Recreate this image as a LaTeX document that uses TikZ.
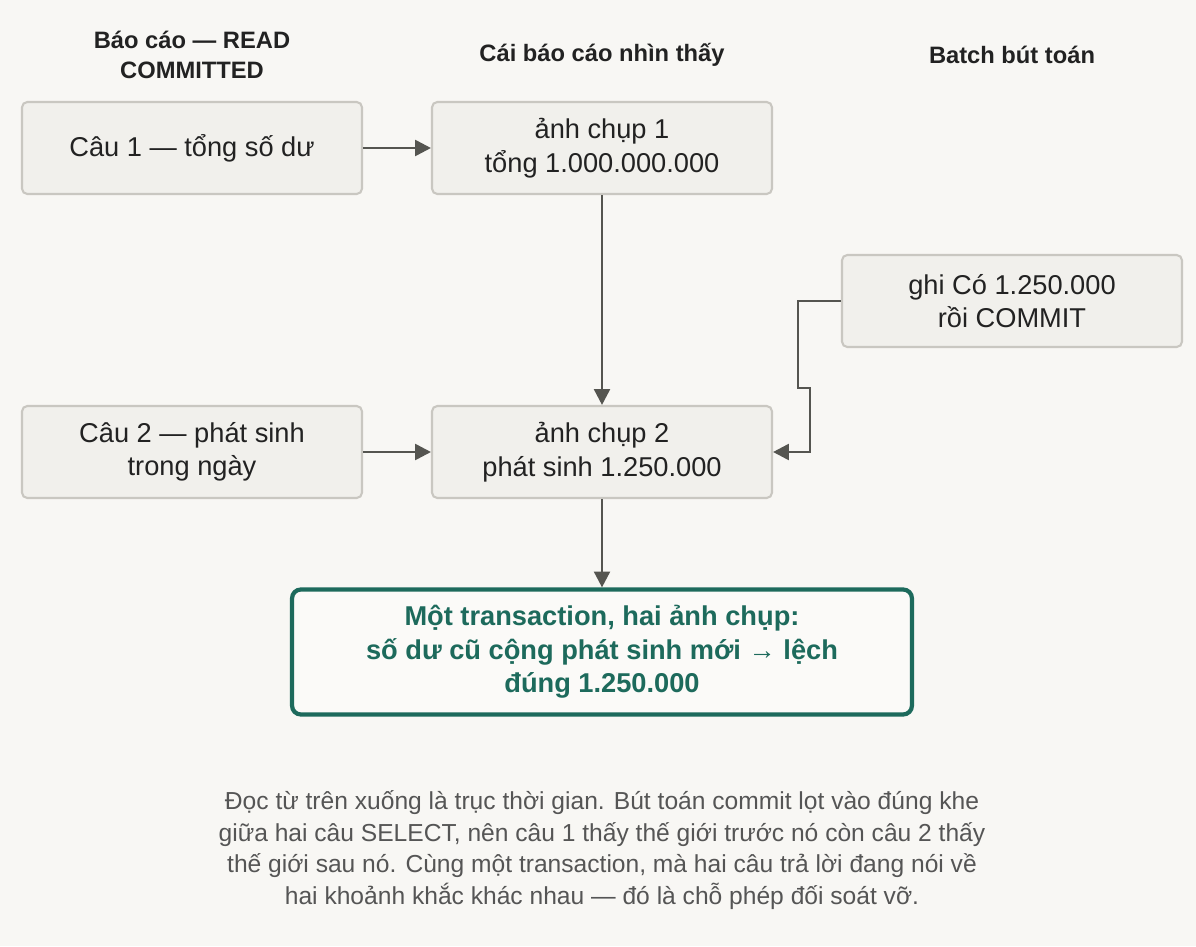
\documentclass[tikz,border=0pt]{standalone}
\usepackage{fontspec}
\setmainfont{Liberation Sans}
\usepackage{xcolor}
\definecolor{paper}{HTML}{F8F7F4}
\definecolor{boxfill}{HTML}{F1F0EC}
\definecolor{boxline}{HTML}{C9C7C1}
\definecolor{ink}{HTML}{222222}
\definecolor{wire}{HTML}{555550}
\definecolor{teal}{HTML}{1D6A5C}
\definecolor{note}{HTML}{555555}
\usetikzlibrary{arrows.meta,positioning}

\tikzset{
  stage/.style={draw=boxline, line width=1.2pt, fill=boxfill, rounded corners=3pt,
    minimum width=6.8cm, minimum height=1.84cm, align=center, text=ink,
    font=\fontsize{15.5}{19}\selectfont},
  head/.style={font=\bfseries\fontsize{13.5}{17}\selectfont, align=center, text=ink},
  flow/.style={draw=wire, line width=1.5pt, -{Triangle[length=9pt,width=9pt]}},
}

\begin{document}
\begin{tikzpicture}[x=0.02cm, y=-0.02cm]
  \useasboundingbox[fill=paper] (0,0) rectangle (1196,946);

  % Headers
  \node[head] (h1) at (192,55) {Báo cáo — READ\\COMMITTED};
  \node[head] (h2) at (602,55) {Cái báo cáo nhìn thấy};
  \node[head] (h3) at (1012,55) {Batch bút toán};

  % Steps
  \node[stage] (q1) at (192,148) {Câu 1 — tổng số dư};
  \node[stage] (s1) at (602,148) {ảnh chụp 1\\tổng 1.000.000.000};
  \node[stage] (bt) at (1012,301) {ghi Có 1.250.000\\rồi COMMIT};
  \node[stage] (q2) at (192,452) {Câu 2 — phát sinh\\trong ngày};
  \node[stage] (s2) at (602,452) {ảnh chụp 2\\phát sinh 1.250.000};

  % Result
  \node[draw=teal, line width=2.4pt, fill=paper!60!white, rounded corners=5pt,
    minimum width=12.4cm, minimum height=2.5cm, align=center, text=teal,
    font=\bfseries\fontsize{15.5}{19}\selectfont] (res) at (602,652)
    {Một transaction, hai ảnh chụp:\\số dư cũ cộng phát sinh mới → lệch\\đúng 1.250.000};

  % Connectors
  \draw[flow] (q1) -- (s1);
  \draw[flow] (q2) -- (s2);
  \draw[flow] (s1) -- (s2);
  \draw[flow] (s2) -- (res);
  \draw[flow] (bt.west) -- ++(-43,0) -- ++(0,87) -- ++(12,0) |- (s2.east);

  % Caption
  \node[text=note, align=center, font=\fontsize{14}{18}\selectfont] (cap) at (602,850)
    {Đọc từ trên xuống là trục thời gian. Bút toán commit lọt vào đúng khe\\
     giữa hai câu SELECT, nên câu 1 thấy thế giới trước nó còn câu 2 thấy\\
     thế giới sau nó. Cùng một transaction, mà hai câu trả lời đang nói về\\
     hai khoảnh khắc khác nhau — đó là chỗ phép đối soát vỡ.};
\end{tikzpicture}
\end{document}
